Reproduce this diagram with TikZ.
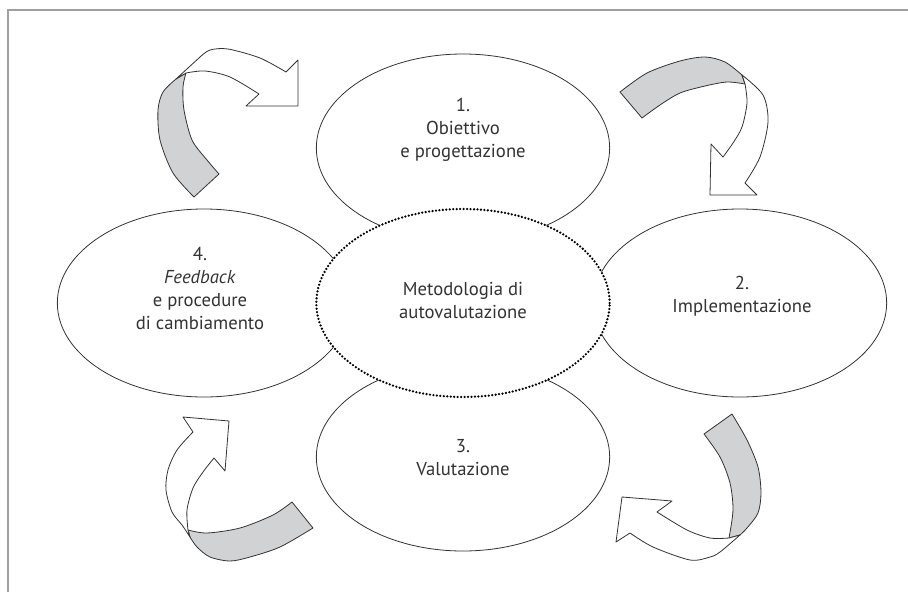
\documentclass[tikz,border=0pt]{standalone}
\usepackage{fontspec}
\setmainfont{PT Sans}
\usetikzlibrary{shapes.geometric}
\definecolor{inkgray}{HTML}{333333}
\definecolor{bandgray}{HTML}{D1D2D4}
\definecolor{framegray}{HTML}{A0A0A0}
\tikzstyle{stage} = [ellipse, minimum width=220pt, minimum height=141pt, draw=inkgray, fill=white, line width=0.6pt]
\tikzstyle{core} = [stage, draw=black, line width=1.9pt, dash pattern=on 0pt off 2.6pt, line cap=round]
\tikzstyle{caption} = [align=center, text=inkgray, font=\fontsize{14}{17.25}\selectfont]
\tikzstyle{band} = [draw=inkgray, line width=0.6pt, line join=round]
\begin{document}
\begin{tikzpicture}[x=0.75pt, y=-0.75pt]
\useasboundingbox (0,0) rectangle (908,593);
\draw [framegray, line width=1.1pt] (8,592) -- (8,10) -- (908,10);

\node (obj) [stage] at (463,148) {};
\node (impl) [stage] at (740,303) {};
\node (val) [stage] at (463,457) {};
\node (feed) [stage] at (204,303) {};
\node (meth) [core] at (463,303) {};

\node (objtext) [caption] at (463,130) {1.\\Obiettivo\\e progettazione};
\node (impltext) [caption] at (742,296) {2.\\Implementazione};
\node (valtext) [caption] at (463,458) {3.\\Valutazione};
\node (feedtext) [caption] at (200,288) {4.\\\textit{Feedback}\\e procedure\\di cambiamento};
\node (methtext) [caption] at (463,300) {Metodologia di\\autovalutazione};

\filldraw [band, fill=bandgray] plot[smooth] coordinates {(194,197) (173,173) (160,140) (158,110) (163,92) (176,79)} -- plot[smooth] coordinates {(186,73) (183,87) (184,110) (192,140) (207,160) (219,174)} -- cycle;
\filldraw [band, fill=white] plot[smooth] coordinates {(186,73) (205,71) (230,77) (259,94)} -- (246,106) -- (298,106) -- (298,60) -- plot[smooth] coordinates {(286,72) (260,58) (228,49) (210,50) (200,57)} -- (176,79) -- cycle;

\filldraw [band, fill=bandgray] plot[smooth] coordinates {(620,92) (647,73) (680,61) (705,57) (725,62) (742,75)} -- plot[smooth] coordinates {(745,84) (727,82) (705,86) (680,93) (660,105) (642,118)} -- cycle;
\filldraw [band, fill=white] plot[smooth] coordinates {(745,84) (747,103) (742,127) (733,143) (723,157)} -- (711,144) -- (710,195) -- (757,195) -- plot[smooth] coordinates {(745,183) (760,157) (768,122) (763,95) (742,75)} -- cycle;

\filldraw [band, fill=bandgray] plot[smooth] coordinates {(732,414) (747,440) (758,467) (761,493) (758,513) (747,528) (740,535)} -- plot[smooth] coordinates {(729,538) (733,510) (730,483) (720,457) (704,434)} -- cycle;
\filldraw [band, fill=white] plot[smooth] coordinates {(729,538) (710,538) (687,530) (657,512)} -- (672,501) -- (622,497) -- (616,542) -- plot[smooth] coordinates {(630,533) (653,547) (690,560) (710,557) (720,552) (740,535)} -- cycle;

\filldraw [band, fill=bandgray] plot[smooth] coordinates {(292,502) (273,515) (240,528) (207,533) (188,530)} -- plot[smooth] coordinates {(190,537) (197,547) (210,557) (230,561) (250,557) (280,547) (313,528)} -- cycle;
\filldraw [band, fill=white] plot[smooth] coordinates {(188,530) (187,510) (193,488) (203,472) (214,458)} -- (225,471) -- (229,421) -- (183,417) -- plot[smooth] coordinates {(193,432) (177,450) (168,470) (166,490) (172,512) (182,525) (190,537)} -- cycle;
\end{tikzpicture}
\end{document}
